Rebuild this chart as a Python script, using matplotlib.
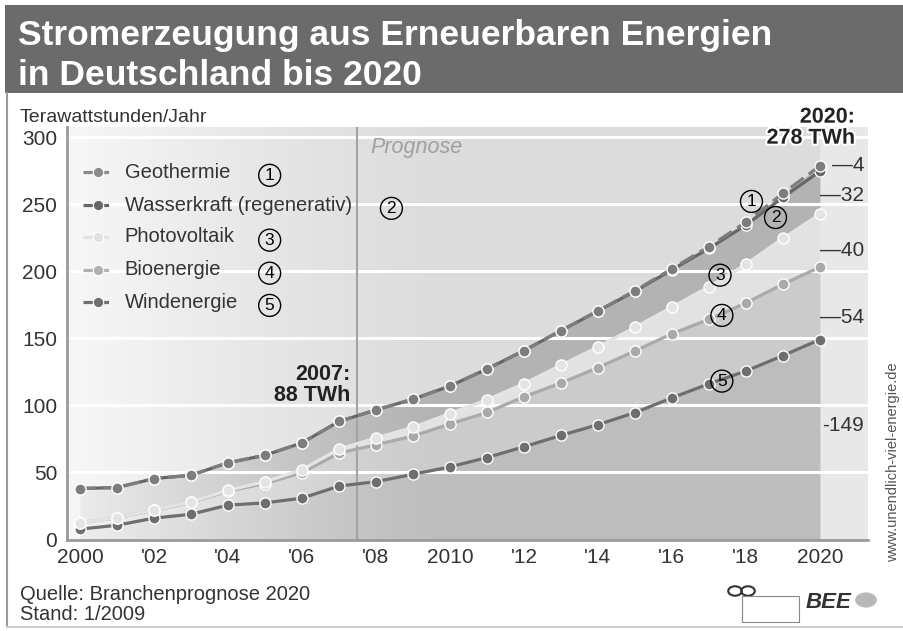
import numpy as np
import matplotlib
matplotlib.use("Agg")
import matplotlib.pyplot as plt
import matplotlib.patheffects as pe
from matplotlib.patches import Rectangle, Circle

plt.rcParams['font.family'] = ['Liberation Sans', 'DejaVu Sans']

# Daten (TWh)
jahre = list(range(2000, 2021))
wind = [7.6, 10.5, 15.8, 18.7, 25.5, 27.2, 30.7, 39.7, 43.0, 48.5, 54.0,
        61.0, 69.0, 77.5, 85.5, 94.5, 105.5, 116.0, 125.5, 137.0, 149.0]
bio = [4.7, 5.5, 5.8, 8.8, 10.5, 14.4, 19.0, 24.6, 27.5, 28.5, 32.0,
       33.6, 37.3, 39.1, 42.5, 46.0, 47.8, 48.0, 50.8, 53.3, 54.0]
pv = [0.1, 0.1, 0.2, 0.3, 0.6, 1.3, 2.2, 3.1, 5.0, 6.5, 7.8,
      9.4, 9.8, 13.2, 15.4, 17.5, 19.9, 24.3, 28.8, 34.1, 39.5]
wasser = [25.5, 22.5, 23.5, 20.0, 20.5, 19.8, 20.0, 20.5, 21.0, 21.0, 20.5,
          23.0, 24.6, 25.8, 26.8, 27.0, 27.8, 28.6, 29.3, 30.6, 32.0]
geo = [0, 0, 0, 0, 0, 0, 0, 0, 0, 0, 0.05,
       0.05, 0.1, 0.1, 0.2, 0.4, 0.8, 1.4, 2.1, 3.0, 4.0]

namen = ["Geothermie", "Wasserkraft (regenerativ)", "Photovoltaik", "Bioenergie", "Windenergie"]
endwerte = ["4", "32", "40", "54", "149"]
xticks = [2000, 2002, 2004, 2006, 2008, 2010, 2012, 2014, 2016, 2018, 2020]
xlabels = ["2000", "'02", "'04", "'06", "'08", "2010", "'12", "'14", "'16", "'18", "2020"]

x = np.array(jahre)
c1 = np.array(wind)
c2 = c1 + np.array(bio)
c3 = c2 + np.array(pv)
c4 = c3 + np.array(wasser)
c5 = c4 + np.array(geo)

fig = plt.figure(figsize=(9.04, 6.31), dpi=100)
fig.patch.set_facecolor("white")

# Titelbalken
fig.patches.append(Rectangle((5 / 904, 1 - 93 / 631), 1, 88 / 631, transform=fig.transFigure,
                             facecolor="#6b6b6b", edgecolor="none", zorder=0))
fig.text(18 / 904, 1 - 45 / 631, "Stromerzeugung aus Erneuerbaren Energien", color="white",
         fontsize=25.5, fontweight="bold", va="baseline")
fig.text(18 / 904, 1 - 85 / 631, "in Deutschland bis 2020", color="white",
         fontsize=25.5, fontweight="bold", va="baseline")
# Rahmen
fig.lines.append(plt.Line2D([7 / 904, 7 / 904], [1 - 93 / 631, 1 - 627 / 631],
                            transform=fig.transFigure, color="#9a9a9a", lw=1.5))
fig.lines.append(plt.Line2D([7 / 904, 1], [1 - 627 / 631, 1 - 627 / 631],
                            transform=fig.transFigure, color="#cfcfcf", lw=1.5))

ax = fig.add_axes([67 / 904, 1 - 540 / 631, 801 / 904, 413 / 631])
ax.set_facecolor("#dcdcdc")

# Bereich rechts von 2020
ax.axvspan(2020, 2021.3, color="#e8e8e8", zorder=0.5, lw=0)

# Flaechen
ax.fill_between(x, 0, c1, color="#bdbdbd", lw=0, zorder=1)
ax.fill_between(x, c1, c2, color="#cbcbcb", lw=0, zorder=1)
ax.fill_between(x, c2, c3, color="#e2e2e2", lw=0, zorder=1)
ax.fill_between(x, c3, c4, color="#b3b3b3", lw=0, zorder=1)
ax.fill_between(x, c4, c5, color="#bcbcbc", lw=0, zorder=1)

# heller Verlauf links
grad = np.zeros((2, 300, 4))
xs = np.linspace(1999.65, 2021.3, 300)
alpha = np.clip((2010 - xs) / 10.0, 0, 1) ** 1.3 * 0.75
grad[:, :, :3] = 1.0
grad[:, :, 3] = alpha
ax.imshow(grad, extent=[1999.65, 2021.3, -0.5, 307.5], aspect="auto", zorder=1.5,
          interpolation="bilinear")
ax.set_xlim(1999.65, 2021.3)
ax.set_ylim(-0.5, 307.5)

for yv in range(50, 301, 50):
    ax.axhline(yv, color="white", lw=2.2, zorder=2)

ax.axvline(2007.5, color="#a3a3a3", lw=1.5, zorder=2.5)
ax.text(2007.85, 292, "Prognose", fontsize=15.5, style="italic", color="#a0a0a0",
        va="center", zorder=2.5)

# Linien
stil = dict(lw=2.3, marker="o", markersize=8, markeredgecolor="white", markeredgewidth=1.0, zorder=3)
ax.plot(x, c1, color="#6e6e6e", **stil)
ax.plot(x, c2, color="#aaaaaa", **stil)
ax.plot(x, c3, color="#e4e4e4", **stil)
ax.plot(x, c4, color="#666666", **stil)
ax.plot(x, c5, color="#7d7d7d", dashes=(5, 2), **stil)

ax.spines["top"].set_visible(False)
ax.spines["right"].set_visible(False)
ax.spines["left"].set_color("#9a9a9a")
ax.spines["bottom"].set_color("#9a9a9a")
ax.spines["left"].set_linewidth(2)
ax.spines["bottom"].set_linewidth(2)
ax.set_yticks(range(0, 301, 50))
ax.set_xticks(xticks)
ax.set_xticklabels(xlabels)
ax.tick_params(length=0, labelsize=15, colors="#333333")
ax.tick_params(axis="y", pad=7)
ax.tick_params(axis="x", pad=6)

# Legende
leg_farben = ["#8a8a8a", "#666666", "#e2e2e2", "#b0b0b0", "#6e6e6e"]
leg_y = [0.891, 0.811, 0.734, 0.654, 0.576]
num_x = [0.253, 0.405, 0.253, 0.253, 0.253]
for i in range(5):
    ax.plot([0.02, 0.039, 0.058], [leg_y[i]] * 3, transform=ax.transAxes, color=leg_farben[i],
            lw=2.3, dashes=(3, 2), marker="o", markersize=7.5, markevery=[1],
            markeredgecolor="white", markeredgewidth=0.8, zorder=4, clip_on=False)
    ax.text(0.072, leg_y[i], namen[i], transform=ax.transAxes, fontsize=14.5, color="#333333",
            va="center", zorder=4)
    ax.text(num_x[i], leg_y[i] - 0.008, str(i + 1), transform=ax.transAxes, fontsize=12.5,
            ha="center", va="center", zorder=4,
            bbox=dict(boxstyle="circle,pad=0.2", fc="none", ec="black", lw=1))

# Nummern im Diagramm
for nx, ny, n in [(2018.15, 252, 1), (2018.8, 240, 2), (2017.3, 197, 3),
                  (2017.35, 167, 4), (2017.35, 118, 5)]:
    ax.text(nx, ny, str(n), fontsize=12.5, ha="center", va="center", zorder=4,
            bbox=dict(boxstyle="circle,pad=0.2", fc="none", ec="black", lw=1))

# Endwerte rechts
for lab, yv in zip(endwerte, [279, 256.5, 215.5, 165.5, 85]):
    t = ("-" if lab == "149" else "\u2014") + lab
    ax.text(2021.2, yv, t, fontsize=15, ha="right", va="center", color="#333333", zorder=4)

ax.text(2007.3, 115, "2007:\n88 TWh", fontsize=15.5, fontweight="bold", ha="right",
        va="center", linespacing=1.0, color="#222222", zorder=4)
ax.text(2020.95, 307, "2020:\n278 TWh", fontsize=15.5, fontweight="bold", ha="right",
        va="center", linespacing=1.0, color="#222222", zorder=4, clip_on=False,
        path_effects=[pe.withStroke(linewidth=3, foreground="white")])

fig.text(20 / 904, 1 - 117 / 631, "Terawattstunden/Jahr", fontsize=14, color="#333333", va="center")
fig.text(20 / 904, 1 - 594 / 631, "Quelle: Branchenprognose 2020", fontsize=14.5, color="#333333",
         va="center")
fig.text(20 / 904, 1 - 614 / 631, "Stand: 1/2009", fontsize=14.5, color="#333333", va="center")
fig.text(893 / 904, 1 - 462 / 631, "www.unendlich-viel-energie.de", fontsize=10.5, color="#555555",
         rotation=90, ha="center", va="center")

# Logos (vereinfacht)
fig.text(806 / 904, 1 - 602 / 631, "BEE", fontsize=16, fontweight="bold", style="italic",
         color="#333333", va="center")
fig.patches.append(Circle((866 / 904, 1 - 600 / 631), 0.012, transform=fig.transFigure,
                          facecolor="#b8b8b8", edgecolor="none"))
for cx in [735, 748]:
    fig.patches.append(Circle((cx / 904, 1 - 591 / 631), 0.0075, transform=fig.transFigure,
                              facecolor="none", edgecolor="#333333", lw=1.5))
fig.patches.append(Rectangle((742 / 904, 1 - 622 / 631), 57 / 904, 26 / 631, transform=fig.transFigure,
                             facecolor="none", edgecolor="#888888", lw=0.8))

fig.savefig("out.png", dpi=100)
